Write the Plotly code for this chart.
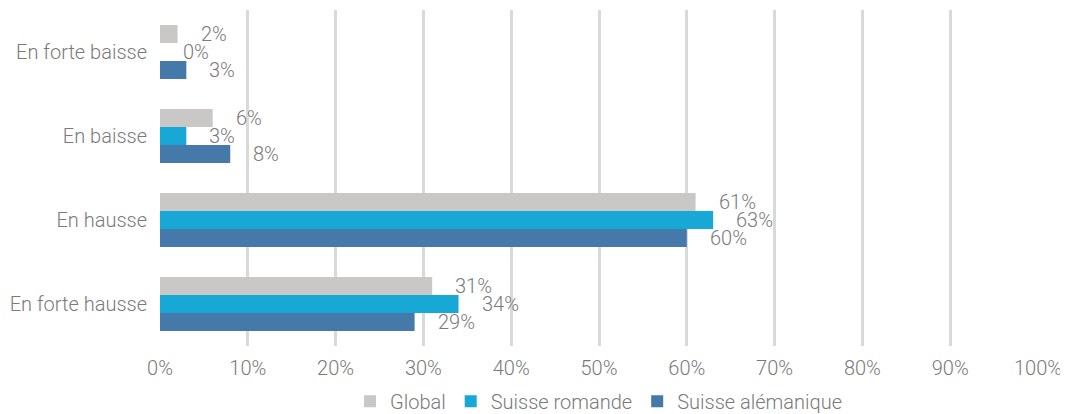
import plotly.graph_objects as go

categories = ["En forte baisse", "En baisse", "En hausse", "En forte hausse"]
series_names = ["Global", "Suisse romande", "Suisse alémanique"]
global_vals = [2, 6, 61, 31]
romande_vals = [0, 3, 63, 34]
alemanique_vals = [3, 8, 60, 29]
x_ticks = [0, 10, 20, 30, 40, 50, 60, 70, 80, 90, 100]
x_tick_labels = [f"{t}%" for t in x_ticks]

colors = ["#c9c8c6", "#17a8d6", "#4579a9"]
series_vals = [global_vals, romande_vals, alemanique_vals]
FONT = "Roboto"
TXT = "#7a7a7a"
FS = 20

fig = go.Figure()
for name, vals, col in zip(series_names, series_vals, colors):
    fig.add_trace(go.Bar(
        y=categories, x=vals, name=name, orientation="h",
        marker=dict(color=col, line=dict(width=0)),
    ))

shifts = [18, 0, -18]
for vals, sh in zip(series_vals, shifts):
    for cat, v in zip(categories, vals):
        fig.add_annotation(
            x=v, y=cat, xref="x", yref="y", text=f"{v}%",
            showarrow=False, xanchor="left", yanchor="middle",
            xshift=21, yshift=sh,
            font=dict(family=FONT, size=FS, color=TXT, weight=300),
        )

fig.update_layout(
    width=1068, height=414,
    margin=dict(l=152, r=38, t=2, b=76, autoexpand=False),
    paper_bgcolor="white", plot_bgcolor="white",
    barmode="group", bargap=0.357, bargroupgap=0,
    font=dict(family=FONT, size=FS, color=TXT, weight=300),
    showlegend=True,
    legend=dict(orientation="h", x=0.5, xanchor="center",
                yref="container", y=0.05, yanchor="middle",
                font=dict(family=FONT, size=FS, color=TXT, weight=300),
                itemwidth=30, tracegroupgap=0),
    xaxis=dict(range=[0, 100], tickvals=x_ticks, ticktext=x_tick_labels,
               showgrid=True, gridcolor="#d9d9d9", gridwidth=3,
               zeroline=False, showline=False, ticks="",
               ticklabelstandoff=8, automargin=False,
               tickfont=dict(family=FONT, size=FS, color=TXT, weight=300)),
    yaxis=dict(categoryorder="array", categoryarray=categories,
               autorange="reversed", showgrid=False, zeroline=False,
               showline=False, ticks="", ticklabelstandoff=12, automargin=False,
               tickfont=dict(family=FONT, size=FS, color=TXT, weight=300)),
)

fig.write_html("out.html")
